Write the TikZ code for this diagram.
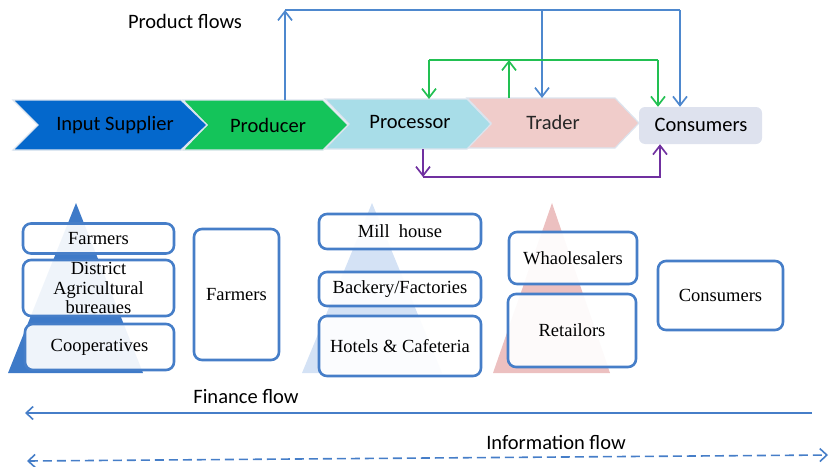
\documentclass[tikz,border=0pt]{standalone}
\usepackage{fontspec}
\setmainfont{Liberation Serif}
\newfontfamily\calib{Carlito}
\usetikzlibrary{arrows.meta,calc}
\definecolor{supplierblue}{RGB}{4,104,204}
\definecolor{producergreen}{RGB}{20,196,90}
\definecolor{processorblue}{RGB}{168,221,232}
\definecolor{traderpink}{RGB}{240,204,202}
\definecolor{consumergray}{RGB}{222,226,238}
\definecolor{chevronedge}{RGB}{220,228,238}
\definecolor{productblue}{RGB}{78,136,206}
\definecolor{flowgreen}{RGB}{34,192,82}
\definecolor{flowpurple}{RGB}{112,48,160}
\definecolor{boxblue}{RGB}{70,126,200}
\definecolor{tridark}{RGB}{62,122,200}
\definecolor{trilight}{RGB}{212,226,245}
\definecolor{tripink}{RGB}{236,192,192}
\tikzset{
  chevron/.style={draw=chevronedge,line width=1.2pt},
  stagelabel/.style={font=\calib\fontsize{20.5}{22}\selectfont,inner sep=0pt},
  flowlabel/.style={font=\calib\fontsize{20.5}{22}\selectfont,inner sep=0pt},
  flowtip/.style={-{Straight Barb[length=9pt,width=14pt]}},
  productflow/.style={draw=productblue,line width=1.7pt},
  greenflow/.style={draw=flowgreen,line width=1.7pt},
  purpleflow/.style={draw=flowpurple,line width=1.7pt},
  actorbox/.style={draw=boxblue,line width=2.6pt,rounded corners=8pt,
    fill=white,fill opacity=0.92,text opacity=1,align=center,inner sep=0pt,
    font=\fontsize{18.5}{19.5}\selectfont},
  bottomflow/.style={draw=boxblue,line width=1.6pt},
  bottomtip/.style={-{Straight Barb[length=7pt,width=13pt]}}
}
\begin{document}
\begin{tikzpicture}[x=1pt,y=-1pt]
\useasboundingbox (0,0) rectangle (829,466);

% value chain stages (drawn right to left so each tip lies over the next stage)
\node[fill=consumergray,rounded corners=6pt,minimum width=123pt,minimum height=37pt,inner sep=0pt]
  (cons) at (700.5,125.5) {};
\fill[traderpink,chevron] (467,98) -- (615,98) -- (639,123) -- (615,148) -- (467,148) -- (491,123) -- cycle;
\fill[processorblue,chevron] (325,99) -- (467,99) -- (491,124) -- (467,149) -- (325,149) -- (349,124) -- cycle;
\fill[producergreen,chevron] (183,100) -- (323,100) -- (348,125) -- (323,150) -- (183,150) -- (207,125) -- cycle;
\fill[supplierblue,chevron] (13,100) -- (181,100) -- (207,125) -- (181,150) -- (13,150) -- (38,125) -- cycle;

\node[stagelabel] (supplier) at (115,125) {Input Supplier};
\node[stagelabel] (producer) at (268,125) {Producer};
\node[stagelabel] (processor) at (410,122) {Processor};
\node[stagelabel,text=black!85] (trader) at (553,122) {Trader};
\node[stagelabel] (consumers) at (701,125) {Consumers};

\node[flowlabel] (productflows) at (185,21) {Product flows};

% connection points on the stages
\coordinate (producerTop) at (285,100);
\coordinate (traderTopBlue) at (542,98);
\coordinate (traderTopGreen) at (509,98);
\coordinate (processorTop) at (429,99);
\coordinate (processorBottom) at (423,149);

% blue product flows
\coordinate (pfLeft) at (285,10);
\coordinate (pfMid) at (542,10);
\coordinate (pfRight) at (680,10);
\draw[productflow,flowtip] (producerTop) -- (pfLeft);
\draw[productflow] (pfLeft) -- (pfRight);
\draw[productflow,flowtip] (pfMid) -- (traderTopBlue);
\draw[productflow,flowtip] (pfRight) -- (pfRight |- cons.north);

% green flows
\coordinate (gLeft) at (429,60);
\coordinate (gMid) at (509,60);
\coordinate (gRight) at (658,60);
\draw[greenflow] (gLeft) -- (gRight);
\draw[greenflow,flowtip] (traderTopGreen) -- (gMid);
\draw[greenflow,flowtip] (gLeft) -- (processorTop);
\draw[greenflow,flowtip] (gRight) -- (gRight |- cons.north);

% purple flow
\coordinate (pCorner) at (423,177);
\draw[purpleflow,flowtip] (processorBottom) -- (pCorner);
\draw[purpleflow,flowtip] (pCorner) -| ($(cons.south)+(-40.5,0)$);

% actor pyramids
\fill[tridark] (76,203) -- (143,373) -- (8,373) -- cycle;
\fill[trilight] (372,203) -- (442,373) -- (302,373) -- cycle;
\fill[tripink] (552,203) -- (610,373) -- (493,373) -- cycle;

% actors
\node[actorbox,minimum width=151pt,minimum height=30pt] (farmersA) at (98.5,238.5) {Farmers};
\node[actorbox,minimum width=151pt,minimum height=56pt] (bureaus) at (98.5,288) {District\\Agricultural\\bureaues};
\node[actorbox,minimum width=149pt,minimum height=46pt] (coops) at (99.5,347) {Cooperatives};
\node[actorbox,minimum width=85pt,minimum height=131pt] (farmersB) at (236.5,294.5) {Farmers};
\node[actorbox,minimum width=162pt,minimum height=35pt] (mill) at (400,231.5) {Mill\ \ house};
\node[actorbox,minimum width=162pt,minimum height=34pt] (bakery) at (400,289) {Backery/Factories};
\node[actorbox,minimum width=162pt,minimum height=60pt] (hotels) at (400,346) {Hotels\ \&\ Cafeteria};
\node[actorbox,minimum width=128pt,minimum height=52pt] (wholesale) at (573,258) {Whaolesalers};
\node[actorbox,minimum width=128pt,minimum height=73pt] (retail) at (572,330.5) {Retailors};
\node[actorbox,minimum width=125pt,minimum height=69pt] (consumersB) at (720.5,295.5) {Consumers};

% finance and information flows
\node[flowlabel] (finance) at (246,397) {Finance flow};
\node[flowlabel] (information) at (556,442) {Information flow};
\coordinate (finRight) at (812,413);
\coordinate (finLeft) at (25,413);
\draw[bottomflow,bottomtip] (finRight) -- (finLeft);
\coordinate (infoLeft) at (27,461);
\coordinate (infoRight) at (828,455);
\draw[bottomflow,dash pattern=on 9pt off 5pt,{Straight Barb[length=7pt,width=13pt]}-{Straight Barb[length=7pt,width=13pt]}] (infoLeft) -- (infoRight);
\end{tikzpicture}
\end{document}
